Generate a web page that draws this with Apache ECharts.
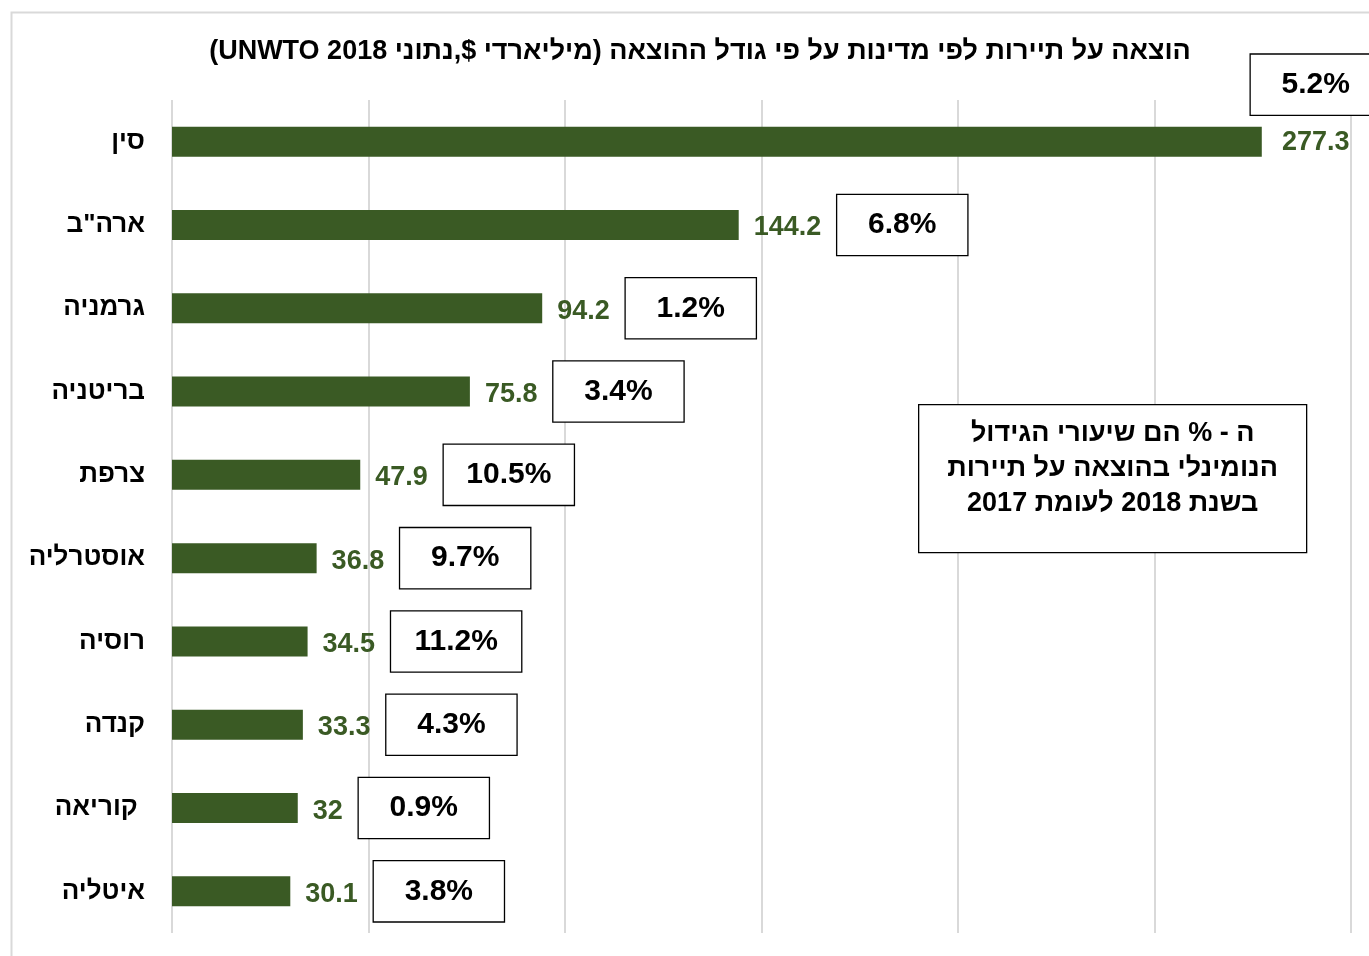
<!DOCTYPE html>
<html>
<head>
<meta charset="utf-8">
<script src="https://cdn.jsdelivr.net/npm/echarts@6/dist/echarts.min.js"></script>
<style>
html,body{margin:0;padding:0;background:#fff;}
#chart{width:1369px;height:956px;direction:rtl;}
</style>
</head>
<body>
<div id="chart"></div>
<script>
const categories = ['סין', 'ארה"ב', 'גרמניה', 'בריטניה', 'צרפת', 'אוסטרליה', 'רוסיה', 'קנדה', ' קוריאה', 'איטליה'];
const spending = [277.3, 144.2, 94.2, 75.8, 47.9, 36.8, 34.5, 33.3, 32, 30.1];
const growth = ['5.2%', '6.8%', '1.2%', '3.4%', '10.5%', '9.7%', '11.2%', '4.3%', '0.9%', '3.8%'];
const xTicks = [0, 50, 100, 150, 200, 250, 300];
const titleText = 'הוצאה על תיירות לפי מדינות על פי גודל ההוצאה (מיליארדי $,נתוני 2018 UNWTO)';
const noteText = 'ה - % הם שיעורי הגידול\nהנומינלי בהוצאה על תיירות\nבשנת 2018 לעומת 2017';

const NARROW = "'Liberation Sans Narrow', 'Arial Narrow', 'Liberation Sans', Arial, sans-serif";
const SANS = "'Liberation Sans', Arial, sans-serif";
const GREEN = '#3a5a24';

const chart = echarts.init(document.getElementById('chart'), null, {renderer: 'canvas'});
const option = {
  animation: false,
  backgroundColor: '#ffffff',
  title: {
    text: titleText,
    left: 695,
    top: 33,
    textAlign: 'center',
    textStyle: {fontFamily: SANS, fontWeight: 'bold', fontSize: 27, color: '#000'}
  },
  grid: {left: 172, right: 18, top: 100, bottom: 23, containLabel: false},
  xAxis: {
    type: 'value',
    min: xTicks[0],
    max: xTicks[xTicks.length - 1],
    interval: xTicks[1] - xTicks[0],
    axisLabel: {show: false},
    axisLine: {show: false},
    axisTick: {show: false},
    splitLine: {show: true, lineStyle: {color: '#d9d9d9', width: 2}}
  },
  yAxis: {
    type: 'category',
    data: categories,
    inverse: true,
    axisLine: {show: false},
    axisTick: {show: false},
    axisLabel: {margin: 27, color: '#000', fontSize: 26, fontWeight: 'bold', fontFamily: SANS}
  },
  series: [{
    type: 'bar',
    barWidth: 30,
    data: spending.map((v, i) => i === 0 ? {value: v, label: {offset: [-26, -29]}} : v),
    itemStyle: {color: GREEN},
    label: {
      show: true,
      position: 'right',
      distance: 15,
      formatter: p => p.dataIndex === 0
        ? '{box|' + growth[0] + '}\n{v2|' + p.value + '}'
        : '{v|' + p.value + '}{g|}{box|' + growth[p.dataIndex] + '}',
      rich: {
        v: {color: GREEN, fontFamily: NARROW, fontWeight: 'bold', fontSize: 27, padding: [6, 0, 0, 0]},
        v2: {color: GREEN, fontFamily: NARROW, fontWeight: 'bold', fontSize: 27, width: 130, align: 'center', lineHeight: 56},
        g: {width: 16},
        box: {width: 130, height: 60, align: 'center', color: '#000', fontFamily: NARROW, fontWeight: 'bold', fontSize: 30,
              borderColor: '#000', borderWidth: 1.3, backgroundColor: '#fff'}
      }
    }
  }],
  graphic: [
    {type: 'rect', left: 9, top: 10, silent: true, z: -10,
     shape: {x: 0, y: 0, width: 1400, height: 1000},
     style: {fill: 'none', stroke: '#d9d9d9', lineWidth: 2}},
    {type: 'group', left: 918, top: 404, zlevel: 1, z: 100, children: [
      {type: 'rect', z: 100, shape: {x: 0, y: 0, width: 388, height: 148},
       style: {fill: '#fff', stroke: '#000', lineWidth: 1.3}},
      {type: 'text', z: 101, style: {text: noteText, x: 194, y: 11, textAlign: 'center', textVerticalAlign: 'top',
        fontFamily: SANS, fontWeight: 'bold', fontSize: 27, lineHeight: 35, fill: '#000'}}
    ]}
  ]
};
chart.setOption(option);
</script>
</body>
</html>
